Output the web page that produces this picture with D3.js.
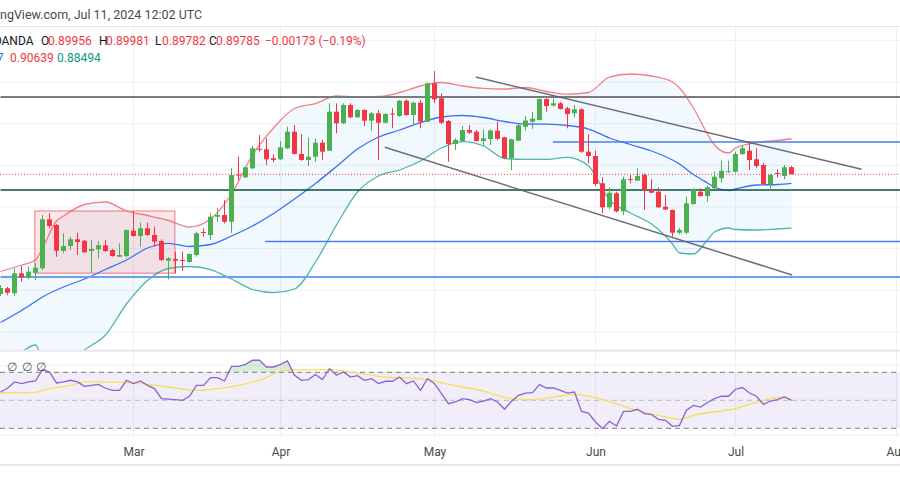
<!DOCTYPE html>
<html><head><meta charset="utf-8">
<script src="https://cdn.jsdelivr.net/npm/d3@7"></script>
<style>html,body{margin:0;padding:0;background:#fff;overflow:hidden}</style>
</head><body><svg id="c" width="900" height="500"></svg>
<script>
// ---------- DATA ----------
const symbolLine = "U.S. Dollar / Swiss Franc · 1D · OANDA";
const headerText = "TradingView.com, Jul 11, 2024 12:02 UTC";
const ohlcLabels = ["O","H","L","C"];
const ohlcValues = ["0.89956","0.89981","0.89782","0.89785"];
const changeText = "\u22120.00173 (\u22120.19%)";
const bbValues = ["0.89567","0.90639","0.88494"];
const tickLabels = ["Mar","Apr","May","Jun","Jul","Aug"];
const priceGrid = [0.86,0.87,0.88,0.89,0.90,0.91,0.92,0.93];

const open = [0.86912,0.87049,0.86929,0.87409,0.87303,0.87423,0.87529,0.88705,0.88568,0.87944,
0.88064,0.88225,0.88191,0.87944,0.87985,0.88081,0.87968,0.87807,0.87824,0.88431,
0.88304,0.88489,0.88328,0.88184,0.87711,0.87752,0.87728,0.8768,0.87848,0.884,
0.88328,0.88767,0.88808,0.88647,0.8978,0.89713,0.89929,0.90397,0.90385,0.90169,
0.90145,0.90409,0.90807,0.90272,0.90128,0.90207,0.90543,0.90351,0.91287,0.91009,
0.91448,0.91153,0.91328,0.91071,0.91249,0.91023,0.91244,0.91184,0.91551,0.91208,
0.91503,0.91047,0.91969,0.91609,0.91064,0.90512,0.90584,0.90848,0.90807,0.90584,
0.90632,0.90831,0.90673,0.90176,0.90591,0.90927,0.91047,0.91088,0.91592,0.91436,
0.91489,0.91369,0.91249,0.91345,0.90327,0.90224,0.89569,0.88993,0.89329,0.88895,
0.89672,0.89631,0.89768,0.89425,0.89367,0.89007,0.88928,0.88383,0.88383,0.89072,
0.89367,0.89264,0.89449,0.89689,0.89835,0.89847,0.90272,0.90351,0.90145,0.90008,
0.89552,0.89816,0.89744,0.89956];
const high = [0.87128,0.8708,0.87529,0.87584,0.87567,0.87649,0.88808,0.88849,0.88592,0.88369,
0.88287,0.88383,0.88208,0.88208,0.88184,0.88208,0.87992,0.88129,0.88465,0.88904,
0.88623,0.88623,0.88527,0.88225,0.878,0.87927,0.87927,0.87889,0.88407,0.88489,
0.88849,0.88969,0.89168,0.89929,0.90207,0.89967,0.90464,0.90728,0.90649,0.90272,
0.90584,0.90927,0.90968,0.90752,0.90673,0.90649,0.90608,0.91489,0.91489,0.91489,
0.91489,0.91352,0.91345,0.91287,0.91328,0.91249,0.91369,0.91568,0.91585,0.91527,
0.91568,0.91983,0.92264,0.91729,0.91088,0.90649,0.90944,0.90968,0.90848,0.90865,
0.90865,0.91047,0.90687,0.90639,0.90992,0.91184,0.9128,0.91609,0.91609,0.91604,
0.91527,0.91407,0.91448,0.91369,0.9074,0.90351,0.89713,0.89473,0.89367,0.89727,
0.89768,0.89929,0.89809,0.89665,0.89473,0.89288,0.8894,0.88503,0.89247,0.89449,
0.89449,0.89504,0.89847,0.90111,0.90111,0.90327,0.90488,0.90529,0.90409,0.90063,
0.89792,0.89905,0.90008,0.89981];
const low = [0.86864,0.86888,0.86864,0.87207,0.87265,0.87248,0.87488,0.88489,0.87807,0.87889,
0.87968,0.87848,0.87903,0.87423,0.87769,0.8792,0.87807,0.878,0.87793,0.88287,
0.88047,0.88304,0.88047,0.87704,0.87265,0.87409,0.87471,0.87663,0.87807,0.88287,
0.88208,0.88647,0.88609,0.88383,0.89648,0.89696,0.89905,0.90327,0.90008,0.90073,
0.90128,0.90392,0.9026,0.90111,0.89984,0.90087,0.90128,0.90344,0.90769,0.90992,
0.91129,0.91136,0.90944,0.90831,0.90128,0.91009,0.90889,0.91167,0.9119,0.90968,
0.90889,0.9104,0.91489,0.90992,0.90087,0.90368,0.90567,0.90752,0.90567,0.90464,
0.90488,0.90608,0.90152,0.89888,0.90577,0.90831,0.90872,0.91076,0.91287,0.91407,
0.9134,0.90889,0.91153,0.90303,0.90049,0.89504,0.88849,0.88945,0.8887,0.88808,
0.89569,0.89624,0.88928,0.89329,0.8898,0.88928,0.88287,0.88345,0.88352,0.89048,
0.89247,0.89127,0.89425,0.89583,0.89823,0.89823,0.90248,0.89888,0.89929,0.89528,
0.89449,0.89713,0.89665,0.89782];
const close = [0.87056,0.86943,0.87409,0.87313,0.87447,0.87543,0.88705,0.88544,0.87951,0.88064,
0.88225,0.8816,0.87913,0.87992,0.88081,0.87944,0.87824,0.87848,0.88448,0.88304,
0.88489,0.88328,0.88167,0.87728,0.87769,0.87711,0.87704,0.87872,0.88369,0.88376,
0.88767,0.88808,0.88647,0.89768,0.89756,0.89953,0.90409,0.90373,0.90145,0.90128,
0.90433,0.90807,0.90272,0.90128,0.90207,0.90543,0.90327,0.91287,0.91009,0.91448,
0.91153,0.91328,0.91071,0.91249,0.91023,0.91232,0.9122,0.91551,0.91208,0.91503,
0.91047,0.91969,0.91585,0.91023,0.90512,0.90608,0.90848,0.90783,0.90584,0.90649,
0.90836,0.90639,0.90176,0.90625,0.90961,0.91076,0.91119,0.91592,0.91424,0.91489,
0.91352,0.91232,0.91345,0.90327,0.90224,0.89552,0.88993,0.89343,0.88895,0.89665,
0.89658,0.89744,0.89408,0.89343,0.88993,0.8894,0.88383,0.88448,0.89089,0.89425,
0.89264,0.89473,0.89727,0.89871,0.89859,0.90272,0.90409,0.90128,0.89984,0.89552,
0.89768,0.89792,0.89953,0.89785];

// Bollinger bands (20,2) sampled at bar indices
const bandIdx = [0,3,5,6,8,9,12,15,18,21,24,27,30,33,36,39,42,45,48,51,54,57,60,63,66,69,72,75,78,81,84,87,90,93,96,97,99,101,102,104,105,108,111,113];
const bbUpper = [0.87452,0.87608,0.87728,0.88016,0.88664,0.88784,0.8906,0.8912,0.88904,0.88796,0.88676,0.8852,0.88712,0.89312,0.90248,0.90896,0.91364,0.91484,0.91664,0.9164,0.91652,0.91748,0.91904,0.91988,0.91904,0.91849,0.91832,0.91868,0.91772,0.91707,0.91748,0.9212,0.92192,0.92144,0.92,0.91856,0.91376,0.90752,0.90488,0.90296,0.90416,0.90548,0.90596,0.90639];
const bbBasis = [0.86228,0.86516,0.86732,0.8684,0.87008,0.8708,0.87272,0.875,0.87728,0.88016,0.88129,0.88052,0.881,0.88304,0.88544,0.88844,0.89192,0.89564,0.89972,0.90392,0.9068,0.90848,0.91023,0.9116,0.91196,0.91148,0.91052,0.90992,0.90987,0.90956,0.90872,0.90656,0.905,0.90344,0.90128,0.90032,0.8978,0.89576,0.8948,0.89396,0.89432,0.89528,0.8954,0.89567];
const bbLower = [0.85208,0.8552,0.85688,0.85328,0.85088,0.85136,0.85568,0.85928,0.86672,0.87236,0.87524,0.87572,0.875,0.87272,0.8702,0.86943,0.87032,0.8768,0.88568,0.8936,0.89744,0.89888,0.90104,0.90416,0.90567,0.90464,0.90164,0.90145,0.90145,0.90193,0.89984,0.89168,0.88856,0.88592,0.88112,0.87896,0.87872,0.88208,0.884,0.88496,0.8846,0.88448,0.88472,0.88494];

// RSI(14) per bar, and its moving average sampled
const rsi = [55.9,58.6,63.1,61.9,63.1,63.8,71.9,70.2,62.4,63.1,
64.3,63.1,60.0,60.7,61.4,58.6,57.1,57.1,64.3,61.9,
63.8,60.7,58.4,51.2,50.9,50.5,50.0,52.9,60.7,60.7,
66.2,66.2,63.8,74.3,74.3,75.7,78.6,78.6,73.8,73.8,
75.7,78.1,67.9,64.3,64.8,68.4,64.8,72.6,67.9,70.2,
66.6,67.6,64.3,65.5,61.9,63.6,63.6,66.6,61.9,63.8,
57.1,65.5,61.9,54.8,47.6,48.8,51.2,50.5,48.4,49.5,
51.2,48.8,43.6,49.3,53.6,55.2,55.5,61.2,58.8,58.8,
57.1,55.2,55.9,42.1,40.9,34.5,29.8,35.0,31.6,42.1,
42.1,43.6,40.5,39.8,36.4,35.7,31.4,32.1,42.9,46.4,
45.2,48.4,51.2,52.9,52.9,57.9,59.1,55.2,52.9,47.1,
49.5,50.5,52.4,50.0];
const rsiMaIdx = [0,5,7,10,12,14,18,20,24,28,31,34,38,40,43,47,50,55,59,61,64,69,73,76,79,82,86,90,95,97,99,105,109,112,113];
const rsiMa = [55.5,55.7,58.4,60.7,63.1,63.1,62.6,61.9,59.5,57.1,58.4,60.7,66.2,70.9,71.9,71.9,70.2,66.6,65.9,64.8,61.4,56.6,51.2,50.5,52.4,54.1,50.5,44.1,38.1,36.4,39.3,44.1,50.0,52.4,50.5];
const rsiLevels = [70,50,30];
const rsiGrid = [75,25];

// drawings
const hLevels = [
  {price:0.9164, from:0, color:"#7a7a7f", width:2},
  {price:0.89408, from:0, color:"#0b4f3c", width:1.6},
  {price:0.9056, from:78.9, color:"#4a7fe0", width:1.3},
  {price:0.88172, from:37.8, color:"#4a7fe0", width:1.3},
  {price:0.8732, from:0, color:"#6f9ff0", width:2}
];
const channelUpper = [{i:67.9,p:0.9212},{i:123.0,p:0.89905}];
const channelLower = [{i:54.9,p:0.90433},{i:113.1,p:0.87368}];
const box = {i0:4.9, i1:24.9, top:0.88904, bottom:0.8741};
const lastPrice = 0.89785;

// ---------- CHART ----------
const W=900, FONT="Roboto, 'Noto Sans', Arial, sans-serif";
const svg=d3.select('#c');
const days=d3.utcDay.range(new Date(Date.UTC(2024,1,5)), new Date(Date.UTC(2024,7,2)))
  .filter(d=>d.getUTCDay()!==0 && d.getUTCDay()!==6);
const bars = open.map((o,i)=>({i,o,h:high[i],l:low[i],c:close[i]}));

const x=d3.scaleLinear().domain([0,1]).range([0.5,7.5]);
const y=d3.scaleLinear().domain([0.86,0.925]).range([332,61.17]);
const ry=d3.scaleLinear().domain([30,70]).range([428.3,372.3]);

const mainTop=27, mainBot=350, rsiTop=352, rsiBot=437;
const defs=svg.append('defs');
defs.append('clipPath').attr('id','mainClip').append('rect').attr('x',0).attr('y',mainTop).attr('width',W).attr('height',mainBot-mainTop);
defs.append('clipPath').attr('id','rsiClip').append('rect').attr('x',0).attr('y',rsiTop).attr('width',W).attr('height',rsiBot-rsiTop);
defs.append('clipPath').attr('id','obClip').append('rect').attr('x',0).attr('y',rsiTop).attr('width',W).attr('height',ry(70)-rsiTop);

// month ticks
const monthTicks=[];
days.forEach((d,i)=>{ if(i>0 && d.getUTCMonth()!==days[i-1].getUTCMonth()) monthTicks.push(i); });

// grid
const grid=svg.append('g');
grid.selectAll('.vg').data(monthTicks).join('line')
  .attr('x1',d=>x(d)).attr('x2',d=>x(d)).attr('y1',mainTop).attr('y2',rsiBot)
  .attr('stroke','#eef0f5').attr('stroke-width',1);
const main=svg.append('g').attr('clip-path','url(#mainClip)');
main.selectAll('.hg').data(priceGrid).join('line')
  .attr('x1',0).attr('x2',W).attr('y1',d=>y(d)).attr('y2',d=>y(d))
  .attr('stroke','#eef0f5').attr('stroke-width',1);

// band fill
const bandData=bandIdx.map((b,k)=>({i:b,u:bbUpper[k],m:bbBasis[k],l:bbLower[k]}));
main.append('path').datum(bandData)
  .attr('d',d3.area().x(d=>x(d.i)).y0(d=>y(d.l)).y1(d=>y(d.u)).curve(d3.curveMonotoneX))
  .attr('fill','rgba(33,150,243,0.06)');

// box
main.append('rect').attr('x',x(box.i0)).attr('y',y(box.top))
  .attr('width',x(box.i1)-x(box.i0)).attr('height',y(box.bottom)-y(box.top))
  .attr('fill','rgba(242,54,69,0.12)').attr('stroke','rgba(242,54,69,0.45)').attr('stroke-width',1.5);

// band lines
const bl=(key,color,w)=>main.append('path').datum(bandData)
  .attr('d',d3.line().x(d=>x(d.i)).y(d=>y(d[key])).curve(d3.curveMonotoneX))
  .attr('fill','none').attr('stroke',color).attr('stroke-width',w);
bl('u','rgba(242,85,95,0.75)',1.3);
bl('m','#3d6ff5',1.3);
bl('l','rgba(8,153,129,0.7)',1.3);

// horizontal levels
main.selectAll('.lv').data(hLevels).join('line')
  .attr('x1',d=>x(d.from)).attr('x2',W).attr('y1',d=>y(d.price)).attr('y2',d=>y(d.price))
  .attr('stroke',d=>d.color).attr('stroke-width',d=>d.width);

// channel
[channelUpper,channelLower].forEach(c=>{
  main.append('line').attr('x1',x(c[0].i)).attr('y1',y(c[0].p)).attr('x2',x(c[1].i)).attr('y2',y(c[1].p))
    .attr('stroke','#5d606b').attr('stroke-width',1.5).attr('opacity',0.9);
});

// candles
const up='#4caf50', dn='#f23645';
const cg=main.append('g');
cg.selectAll('.wk').data(bars).join('rect')
  .attr('x',d=>x(d.i)-0.5).attr('width',1)
  .attr('y',d=>y(d.h)).attr('height',d=>Math.max(1,y(d.l)-y(d.h)))
  .attr('fill',d=>d.c>=d.o?up:dn);
cg.selectAll('.bd').data(bars).join('rect')
  .attr('x',d=>x(d.i)-2.5).attr('width',5)
  .attr('y',d=>y(Math.max(d.o,d.c))).attr('height',d=>Math.max(1,Math.abs(y(d.o)-y(d.c))))
  .attr('fill',d=>d.c>=d.o?up:dn);

// last price dotted line
main.append('line').attr('x1',0).attr('x2',W).attr('y1',y(lastPrice)).attr('y2',y(lastPrice))
  .attr('stroke','#f23645').attr('stroke-width',1).attr('stroke-dasharray','1,2');

// ---------- RSI pane ----------
const rp=svg.append('g').attr('clip-path','url(#rsiClip)');
rp.selectAll('.rg').data(rsiGrid).join('line').attr('x1',0).attr('x2',W)
  .attr('y1',d=>ry(d)).attr('y2',d=>ry(d)).attr('stroke','#eef0f5');
rp.append('rect').attr('x',0).attr('width',W).attr('y',ry(70)).attr('height',ry(30)-ry(70))
  .attr('fill','rgba(126,87,194,0.1)');
rp.selectAll('.rl').data(rsiLevels).join('line').attr('x1',0).attr('x2',W)
  .attr('y1',d=>ry(d)).attr('y2',d=>ry(d))
  .attr('stroke',d=>d===50?'rgba(120,123,134,0.45)':'#787b86')
  .attr('stroke-width',1).attr('stroke-dasharray','5,4');
const rsiData=rsi.map((v,i)=>({i,v}));
rp.append('path').datum(rsiData).attr('clip-path','url(#obClip)')
  .attr('d',d3.area().x(d=>x(d.i)).y0(ry(70)).y1(d=>ry(d.v)))
  .attr('fill','rgba(76,175,80,0.22)');
rp.append('path').datum(rsiMaIdx.map((b,k)=>({i:b,v:rsiMa[k]})))
  .attr('d',d3.line().x(d=>x(d.i)).y(d=>ry(d.v)).curve(d3.curveMonotoneX))
  .attr('fill','none').attr('stroke','#f7df55').attr('stroke-width',1.3);
rp.append('path').datum(rsiData)
  .attr('d',d3.line().x(d=>x(d.i)).y(d=>ry(d.v)))
  .attr('fill','none').attr('stroke','#8a63d2').attr('stroke-width',1.3);
rp.selectAll('.na').data([11.7,26.7,41]).join('text')
  .attr('x',d=>d).attr('y',370.5).attr('text-anchor','middle')
  .attr('font-family',FONT).attr('font-size',12).attr('fill','#555').text('\u2205');

// separators
svg.append('line').attr('x1',0).attr('x2',W).attr('y1',26.5).attr('y2',26.5).attr('stroke','#e6e8ee');
svg.append('line').attr('x1',0).attr('x2',W).attr('y1',350.8).attr('y2',350.8).attr('stroke','#e6e8ee').attr('stroke-width',2);
svg.append('line').attr('x1',0).attr('x2',W).attr('y1',465).attr('y2',465).attr('stroke','#e6e8ee').attr('stroke-width',2);

// time axis
const ax=svg.append('g').attr('transform','translate(0,438)')
  .call(d3.axisBottom(x).tickValues(monthTicks).tickSize(0).tickPadding(9.5)
    .tickFormat((d,k)=>tickLabels[k]));
ax.select('.domain').remove();
ax.selectAll('text').attr('font-family',FONT).attr('font-size',12).attr('fill','#4a4a4a');

// ---------- header ----------
const h1=svg.append('text').attr('y',18.5).attr('font-family',FONT).attr('font-size',12.5).attr('fill','#4a4a4a').text(headerText);
const tmp=svg.append('text').attr('font-family',FONT).attr('font-size',12.5).text('Tradi');
h1.attr('x',-tmp.node().getComputedTextLength()); tmp.remove();

const h2=svg.append('g').attr('font-family',FONT).attr('font-size',12);
h2.append('text').attr('x',33.5).attr('y',45).attr('text-anchor','end').attr('fill','#131722').text(symbolLine);
const lx=[41,99,155,209], vx=[48,106,162,216];
ohlcLabels.forEach((l,k)=>{
  h2.append('text').attr('x',lx[k]).attr('y',45).attr('fill','#131722').text(l);
  h2.append('text').attr('x',vx[k]).attr('y',45).attr('fill','#f23645').text(ohlcValues[k]);
});
h2.append('text').attr('x',265).attr('y',45).attr('fill','#f23645').text(changeText);
h2.append('text').attr('x',3.5).attr('y',62).attr('text-anchor','end').attr('fill','#2962ff').text(bbValues[0]);
h2.append('text').attr('x',10).attr('y',62).attr('fill','#f23645').text(bbValues[1]);
h2.append('text').attr('x',57).attr('y',62).attr('fill','#089981').text(bbValues[2]);
</script></body></html>
